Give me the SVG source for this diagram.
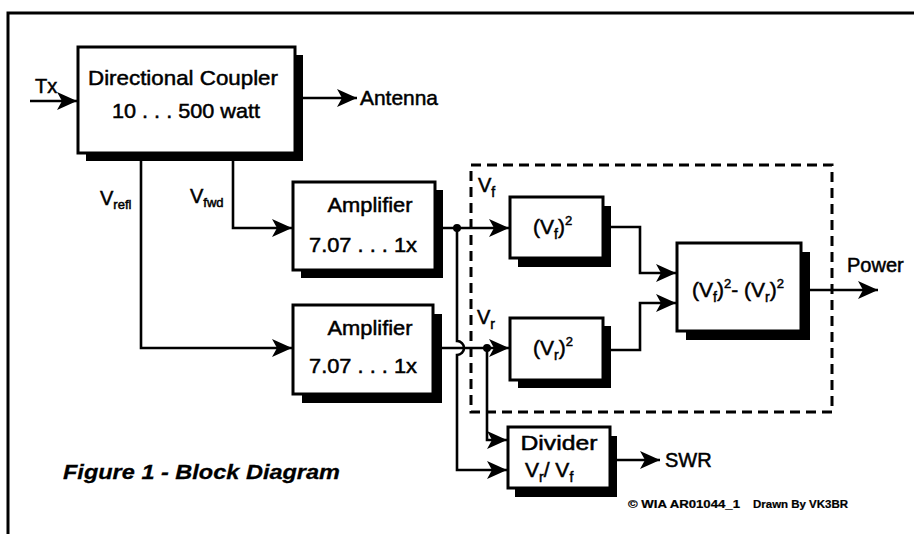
<svg xmlns="http://www.w3.org/2000/svg" width="914" height="534" viewBox="0 0 914 534">
<style>
  text { font-family: "Liberation Sans", Arial, sans-serif; fill: #000; stroke: #000; stroke-width: 0.5; }
  .t21 { font-size: 21px; }
  .t20 { font-size: 20px; }
  .sub { font-size: 14px; }
  .sup { font-size: 13px; }
  .box { fill: #fff; stroke: #000; stroke-width: 3; }
  .shadow { fill: #000; stroke: none; }
  .wire { fill: none; stroke: #000; stroke-width: 2.6; }
  .dash { fill: none; stroke: #000; stroke-width: 3; stroke-dasharray: 10 6; }
  .frame { fill: none; stroke: #000; stroke-width: 3; }
  .cap { font-size: 21px; font-weight: bold; font-style: italic; stroke-width: 0.3; }
  .copy { font-size: 10px; font-weight: bold; stroke-width: 0.2; }
</style>
<defs>
  <marker id="arr" viewBox="0 0 20 18" refX="20" refY="9" markerWidth="20" markerHeight="18" markerUnits="userSpaceOnUse" orient="auto">
    <path d="M0,0 L20,9 L0,18 L5,9 Z" fill="#000"/>
  </marker>
</defs>
<rect x="0" y="0" width="914" height="534" fill="#fff"/>
<path class="frame" d="M8,534 V13 H914"/>

<g id="connectors">
  <path class="wire" d="M30,101 H77" marker-end="url(#arr)"/>
  <path class="wire" d="M295,98 H357" marker-end="url(#arr)"/>
  <path class="wire" d="M233,161 V228 H292" marker-end="url(#arr)"/>
  <path class="wire" d="M141,161 V348 H292" marker-end="url(#arr)"/>
  <path class="wire" d="M435,228 H509" marker-end="url(#arr)"/>
  <path class="wire" d="M433,348 H509" marker-end="url(#arr)"/>
  <path class="wire" d="M457,228 V341 A7,7 0 0 1 457,355 V470 H507" marker-end="url(#arr)"/>
  <path class="wire" d="M487,348 V440 H507" marker-end="url(#arr)"/>
  <path class="wire" d="M603,227 H640 V273 H676" marker-end="url(#arr)"/>
  <path class="wire" d="M603,350 H640 V303 H676" marker-end="url(#arr)"/>
  <path class="wire" d="M801,290 H878" stroke-width="2" marker-end="url(#arr)"/>
  <path class="wire" d="M610,460 H660" marker-end="url(#arr)"/>
  <circle cx="457" cy="228" r="4" fill="#000"/>
  <circle cx="487" cy="348" r="4" fill="#000"/>
  <rect class="dash" x="471" y="165" width="361" height="247"/>
</g>

<g id="labels">
  <text class="t20" x="35" y="93">Tx</text>
  <text class="t21" x="360" y="105" textLength="78" lengthAdjust="spacingAndGlyphs">Antenna</text>
  <text class="t20" x="100" y="205">V<tspan class="sup" dy="4">refl</tspan></text>
  <text class="t20" x="190" y="203">V<tspan class="sup" dy="4">fwd</tspan></text>
  <text class="t20" x="478" y="192">V<tspan class="sub" dy="5">f</tspan></text>
  <text class="t20" x="477" y="324">V<tspan class="sub" dy="5">r</tspan></text>
  <text class="t20" x="847" y="272">Power</text>
  <text class="t20" x="665" y="467">SWR</text>
  <text class="cap" x="63" y="479" textLength="277" lengthAdjust="spacingAndGlyphs">Figure 1 - Block Diagram</text>
  <text class="copy" x="628" y="508" textLength="112" lengthAdjust="spacingAndGlyphs">© WIA AR01044_1</text>
  <text class="copy" x="753" y="508" textLength="95" lengthAdjust="spacingAndGlyphs">Drawn By VK3BR</text>
</g>

<g id="coupler">
  <rect class="shadow" x="86" y="55" width="217" height="106"/>
  <rect class="box" x="78" y="47" width="217" height="106"/>
  <text class="t21" x="183" y="85" text-anchor="middle" textLength="190" lengthAdjust="spacingAndGlyphs">Directional Coupler</text>
  <text class="t21" x="186" y="118" text-anchor="middle" textLength="148" lengthAdjust="spacingAndGlyphs">10 . . . 500 watt</text>
</g>

<g id="amp1">
  <rect class="shadow" x="301" y="190" width="142" height="88"/>
  <rect class="box" x="293" y="182" width="142" height="88"/>
  <text class="t21" x="370" y="212" text-anchor="middle" textLength="85" lengthAdjust="spacingAndGlyphs">Amplifier</text>
  <text class="t21" x="363" y="252" text-anchor="middle" textLength="108" lengthAdjust="spacingAndGlyphs">7.07 . . . 1x</text>
</g>

<g id="amp2">
  <rect class="shadow" x="302" y="314" width="140" height="89"/>
  <rect class="box" x="293" y="305" width="140" height="89"/>
  <text class="t21" x="370" y="335" text-anchor="middle" textLength="85" lengthAdjust="spacingAndGlyphs">Amplifier</text>
  <text class="t21" x="363" y="373" text-anchor="middle" textLength="108" lengthAdjust="spacingAndGlyphs">7.07 . . . 1x</text>
</g>

<g id="vf-square">
  <rect class="shadow" x="518" y="206" width="93" height="61"/>
  <rect class="box" x="510" y="197" width="93" height="61"/>
  <text class="t21" x="533" y="234">(V<tspan class="sub" dy="5">f</tspan><tspan dy="-5">)</tspan><tspan class="sup" dy="-9">2</tspan></text>
</g>

<g id="vr-square">
  <rect class="shadow" x="518" y="326" width="93" height="62"/>
  <rect class="box" x="510" y="318" width="93" height="62"/>
  <text class="t21" x="533" y="355">(V<tspan class="sub" dy="5">r</tspan><tspan dy="-5">)</tspan><tspan class="sup" dy="-9">2</tspan></text>
</g>

<g id="difference">
  <rect class="shadow" x="686" y="252" width="124" height="88"/>
  <rect class="box" x="677" y="243" width="124" height="88"/>
  <text class="t21" x="692" y="297">(V<tspan class="sub" dy="5">f</tspan><tspan dy="-5">)</tspan><tspan class="sup" dy="-9">2</tspan><tspan dy="9">- (V</tspan><tspan class="sub" dy="5">r</tspan><tspan dy="-5">)</tspan><tspan class="sup" dy="-9">2</tspan></text>
</g>

<g id="divider">
  <rect class="shadow" x="515" y="436" width="102" height="61"/>
  <rect class="box" x="508" y="427" width="102" height="61"/>
  <text class="t21" x="559" y="450" text-anchor="middle" textLength="77" lengthAdjust="spacingAndGlyphs">Divider</text>
  <text class="t21" x="525" y="477">V<tspan class="sub" dy="5">r</tspan><tspan dy="-5">/ V</tspan><tspan class="sub" dy="5">f</tspan></text>
</g>
</svg>
